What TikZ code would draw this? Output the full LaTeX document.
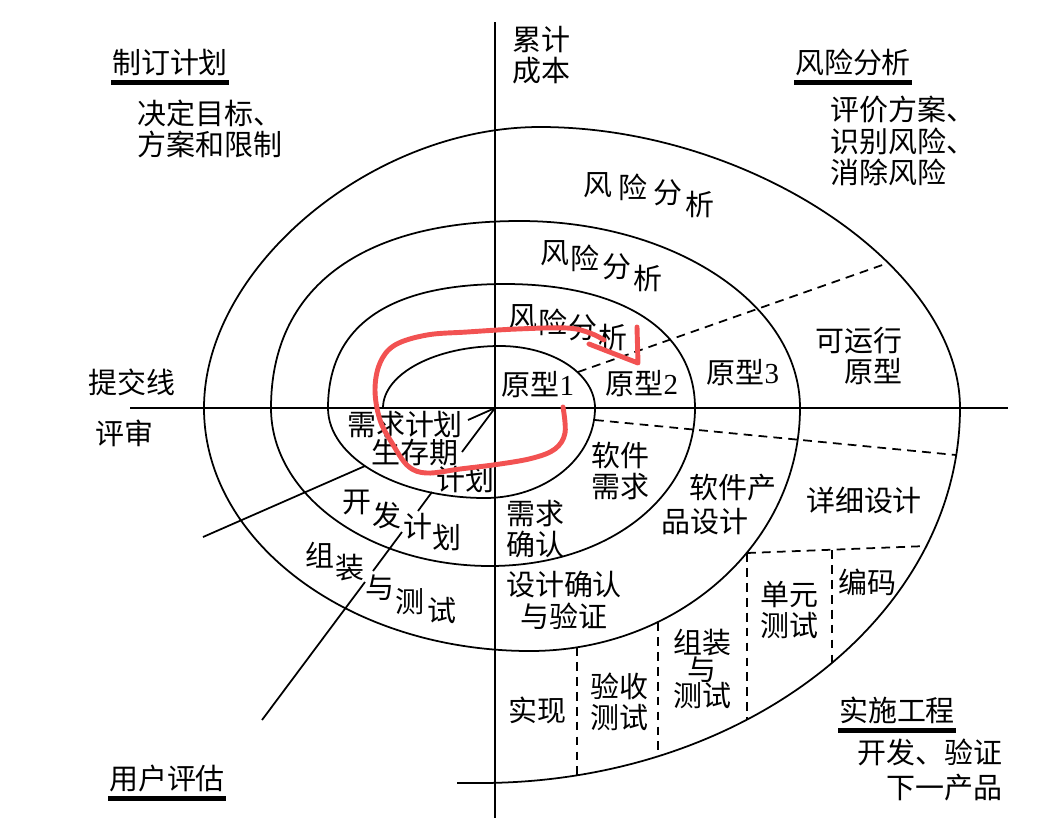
\documentclass[tikz,border=0pt]{standalone}
\usepackage{fontspec}
\newfontfamily\cjk{Noto Sans CJK SC}
\newfontfamily\digits{Liberation Serif}
\usepackage{tikz}
\usepackage{xcolor}

\definecolor{penred}{RGB}{242,82,82}

\tikzset{
  lbl/.style={font=\cjk\fontsize{16.5}{18}\selectfont, inner sep=0pt},
  bar/.style={line width=2.6pt},
  dashline/.style={dash pattern=on 5pt off 3.5pt},
  pen/.style={penred, line width=2.8pt, line cap=round, line join=round}
}

\begin{document}
\begin{tikzpicture}[x=0.02cm, y=-0.02cm, line width=1pt]
        \useasboundingbox (0,0) rectangle (1062,826);
        \coordinate (O) at (495,408);

        % axes
        \draw (130,408) -- (1008,408);
        \draw (495,22) -- (495,818);

        % the spiral, one quarter at a time
        \draw (383,408) .. controls (383,373.8) and (435.4,346) .. (500,346)
              .. controls (552.4,346) and (595,373.8) .. (595,408)
              .. controls (595,457.7) and (545.7,498) .. (485,498)
              .. controls (398.3,498) and (328,457.7) .. (328,408)
              .. controls (328,326.2) and (388.2,284) .. (505,284)
              .. controls (622.8,284) and (695,331.1) .. (695,408)
              .. controls (695,498.1) and (606.9,566) .. (490,566)
              .. controls (369.1,566) and (271,495.2) .. (271,408)
              .. controls (271,288.3) and (360.6,221) .. (520,221)
              .. controls (674.6,221) and (800,304.8) .. (800,408)
              .. controls (800,542.1) and (679,651) .. (530,651)
              .. controls (350,651) and (204,542.1) .. (204,408)
              .. controls (204,267.5) and (372,127) .. (540,127)
              .. controls (750,127) and (960,267.5) .. (960,408)
              .. controls (960,615) and (745,783) .. (480,783)
              -- (457,783);

        % rays from the centre
        \draw (O) -- (468,420);
        \draw (365,466) -- (203,537);
        \draw (O) -- (462,452);
        \draw (432,492) -- (418,511);
        \draw (402,532) -- (373,571);
        \draw (365,582) -- (262,720);

        % dashed dividers
        \draw [dashline] (578,372) -- (888,263);
        \draw [dashline] (595,420) -- (956,455);
        \draw [dashline] (747,553) -- (927,546);
        \draw [dashline] (832,550) -- (832,663);
        \draw [dashline] (747,553) -- (747,720);
        \draw [dashline] (658,622) -- (658,756);
        \draw [dashline] (577,647) -- (577,775);

        % quadrant titles
        \node [lbl] (plan) at (170,62) {制订计划};
        \node [lbl] (risk) at (853,62) {风险分析};
        \node [lbl] (user) at (167,778) {用户评估};
        \node [lbl] (eng) at (897,710) {实施工程};
        \draw [bar] ([yshift=-3.5pt]plan.south west) -- ([yshift=-3.5pt]plan.south east);
        \draw [bar] ([yshift=-3.5pt]risk.south west) -- ([yshift=-3.5pt]risk.south east);
        \draw [bar] ([yshift=-3.5pt]user.south west) -- ([yshift=-3.5pt]user.south east);
        \draw [bar] ([yshift=-3.5pt]eng.south west) -- ([yshift=-3.5pt]eng.south east);

        \node [lbl, align=left, anchor=west] (goal) at (137,129) {决定目标、\\方案和限制};
        \node [lbl, align=left, anchor=west] (eval) at (830,141) {评价方案、\\识别风险、\\消除风险};
        \node [lbl, align=right, anchor=east] (next) at (1003,770) {开发、验证\\[2pt]下一产品};
        \node [lbl, align=left, anchor=west] (cost) at (512,55) {累计\\成本};
        \node [lbl, anchor=west] (commit) at (88,382) {提交线};
        \node [lbl, anchor=west] (review) at (95,433) {评审};

        % risk analysis along the arcs
        \foreach \ch/\x/\y [count=\i] in {风/598/185, 险/633/187, 分/668/193, 析/700/204}
            \node [lbl] (riskc\i) at (\x,\y) {\ch};
        \foreach \ch/\x/\y [count=\i] in {风/555/253, 险/585/258, 分/617/267, 析/648/278}
            \node [lbl] (riskb\i) at (\x,\y) {\ch};
        \foreach \ch/\x/\y [count=\i] in {风/523/317, 险/553/322, 分/583/328, 析/613/337}
            \node [lbl] (riska\i) at (\x,\y) {\ch};

        % prototypes
        \node [lbl] (proto1) at (538,385) {原型{\digits 1}};
        \node [lbl] (proto2) at (642,384) {原型{\digits 2}};
        \node [lbl] (proto3) at (743,373) {原型{\digits 3}};
        \node [lbl, align=right, anchor=east] (runp) at (903,356) {可运行\\原型};

        % planning side
        \node [lbl] (reqplan) at (405,425) {需求计划};
        \node [lbl] (life) at (415,453) {生存期};
        \node [lbl] (lifeplan) at (465,479) {计划};
        \foreach \ch/\x/\y [count=\i] in {开/357/502, 发/387/515, 计/418/527, 划/447/537}
            \node [lbl] (devplan\i) at (\x,\y) {\ch};
        \foreach \ch/\x/\y [count=\i] in {组/320/555, 装/350/568, 与/380/588, 测/410/602, 试/442/610}
            \node [lbl] (inttest\i) at (\x,\y) {\ch};

        % engineering side
        \node [lbl, align=center] (swreq) at (620,471) {软件\\需求};
        \node [lbl, align=center] (reqchk) at (535,529) {需求\\确认};
        \node [lbl] (swdes1) at (733,488) {软件产};
        \node [lbl] (swdes2) at (705,522) {品设计};
        \node [lbl, align=center] (desver) at (564,600) {设计确认\\与验证};
        \node [lbl] (detail) at (864,500) {详细设计};
        \node [lbl] (code) at (867,582) {编码};
        \node [lbl, align=center] (unit) at (789,610) {单元\\测试};
        \node [lbl, align=center] (assy) at (702,669) {组装\\[-3pt]与\\[-3pt]测试};
        \node [lbl, align=center] (accept) at (619,702) {验收\\测试};
        \node [lbl] (impl) at (537,710) {实现};

        % red hand drawn arrow
        \draw [pen] plot[smooth, tension=0.6] coordinates {
            (563,407) (565,433) (555,449) (533,458) (500,464) (460,469) (427,473) (408,466)
            (392,443) (380,420) (375,390) (380,363) (395,345) (427,335) (467,332) (517,329)
            (567,328) (590,333) (604,340)};
        \draw [pen] (637,327) -- (638,363) -- (589,344);

    \end{tikzpicture}
\end{document}
